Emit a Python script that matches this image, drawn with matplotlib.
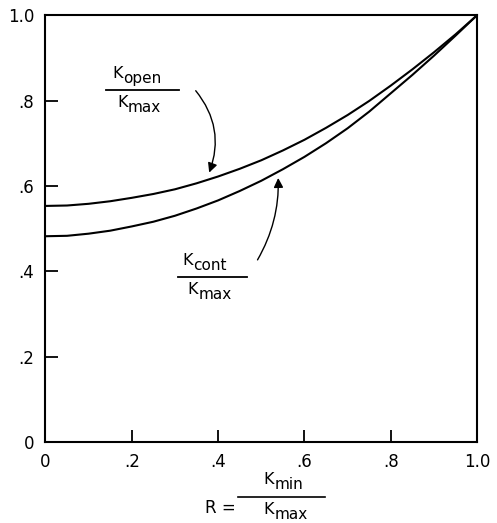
import numpy as np
import matplotlib
matplotlib.use("Agg")
from matplotlib import pyplot as plt

# R = k_min / k_max
r = [0.0, 0.05, 0.1, 0.15, 0.2, 0.25, 0.3, 0.35, 0.4, 0.45, 0.5,
     0.55, 0.6, 0.65, 0.7, 0.75, 0.8, 0.85, 0.9, 0.95, 1.0]
# k_open / k_max
k_open = [0.553, 0.554, 0.558, 0.564, 0.572, 0.581, 0.592, 0.606, 0.622, 0.640, 0.660,
          0.683, 0.708, 0.736, 0.766, 0.799, 0.835, 0.873, 0.913, 0.955, 1.0]
# k_cont / k_max
k_cont = [0.482, 0.483, 0.488, 0.495, 0.505, 0.516, 0.530, 0.547, 0.566, 0.588, 0.612,
          0.639, 0.668, 0.700, 0.735, 0.774, 0.817, 0.860, 0.905, 0.952, 1.0]

xticks = [0, 0.2, 0.4, 0.6, 0.8, 1.0]
xticklabels = ["0", ".2", ".4", ".6", ".8", "1.0"]
yticks = [0, 0.2, 0.4, 0.6, 0.8, 1.0]
yticklabels = ["0", ".2", ".4", ".6", ".8", "1.0"]

plt.rcParams["font.family"] = "DejaVu Sans"

fig = plt.figure(figsize=(4.97, 5.23), dpi=100)
ax = fig.add_axes([0.0915, 0.155, 0.8685, 0.816])

ax.plot(r, k_open, color="black", lw=1.5)
ax.plot(r, k_cont, color="black", lw=1.5)

ax.set_xlim(0, 1)
ax.set_ylim(0, 1)
ax.set_xticks(xticks)
ax.set_xticklabels(xticklabels)
ax.set_yticks(yticks)
ax.set_yticklabels(yticklabels)
ax.tick_params(direction="in", length=9, width=1.3, labelsize=12, pad=8)
for s in ax.spines.values():
    s.set_linewidth(1.5)


def ksub(x, y, sub, va):
    # "K" with a lowered subscript of almost the same size, centred on x
    t = ax.annotate("K", (x, y), xytext=(-len(sub) * 3.6, 0), textcoords="offset points",
                    ha="right", va=va, fontsize=11.5, annotation_clip=False)
    ax.annotate(sub, (x, y), xytext=(-len(sub) * 3.6 + 0.5, -3.5), textcoords="offset points",
                ha="left", va=va, fontsize=11, annotation_clip=False)
    return t


def frac(x0, x1, ybar, num, den):
    xc = (x0 + x1) / 2
    ax.plot([x0, x1], [ybar, ybar], color="black", lw=1.3, clip_on=False)
    ksub(xc, ybar + 0.022, num, "bottom")
    ksub(xc, ybar - 0.012, den, "top")


frac(0.140, 0.309, 0.824, "open", "max")
frac(0.307, 0.467, 0.386, "cont", "max")

ax.annotate("", xy=(0.377, 0.625), xytext=(0.344, 0.828),
            arrowprops=dict(arrowstyle="-|>", color="black", lw=1.0,
                            mutation_scale=14, connectionstyle="arc3,rad=-0.3"))
ax.annotate("", xy=(0.539, 0.625), xytext=(0.488, 0.421),
            arrowprops=dict(arrowstyle="-|>", color="black", lw=1.0,
                            mutation_scale=14, connectionstyle="arc3,rad=0.15"))

# x-axis label written as a fraction below the axes
ax.text(0.44, -0.155, "R =", ha="right", va="center", fontsize=12, clip_on=False)
ax.plot([0.446, 0.648], [-0.128, -0.128], color="black", lw=1.2, clip_on=False)
ksub(0.564, -0.106, "min", "bottom")
ksub(0.564, -0.141, "max", "top")

fig.savefig("out.png", dpi=100)
